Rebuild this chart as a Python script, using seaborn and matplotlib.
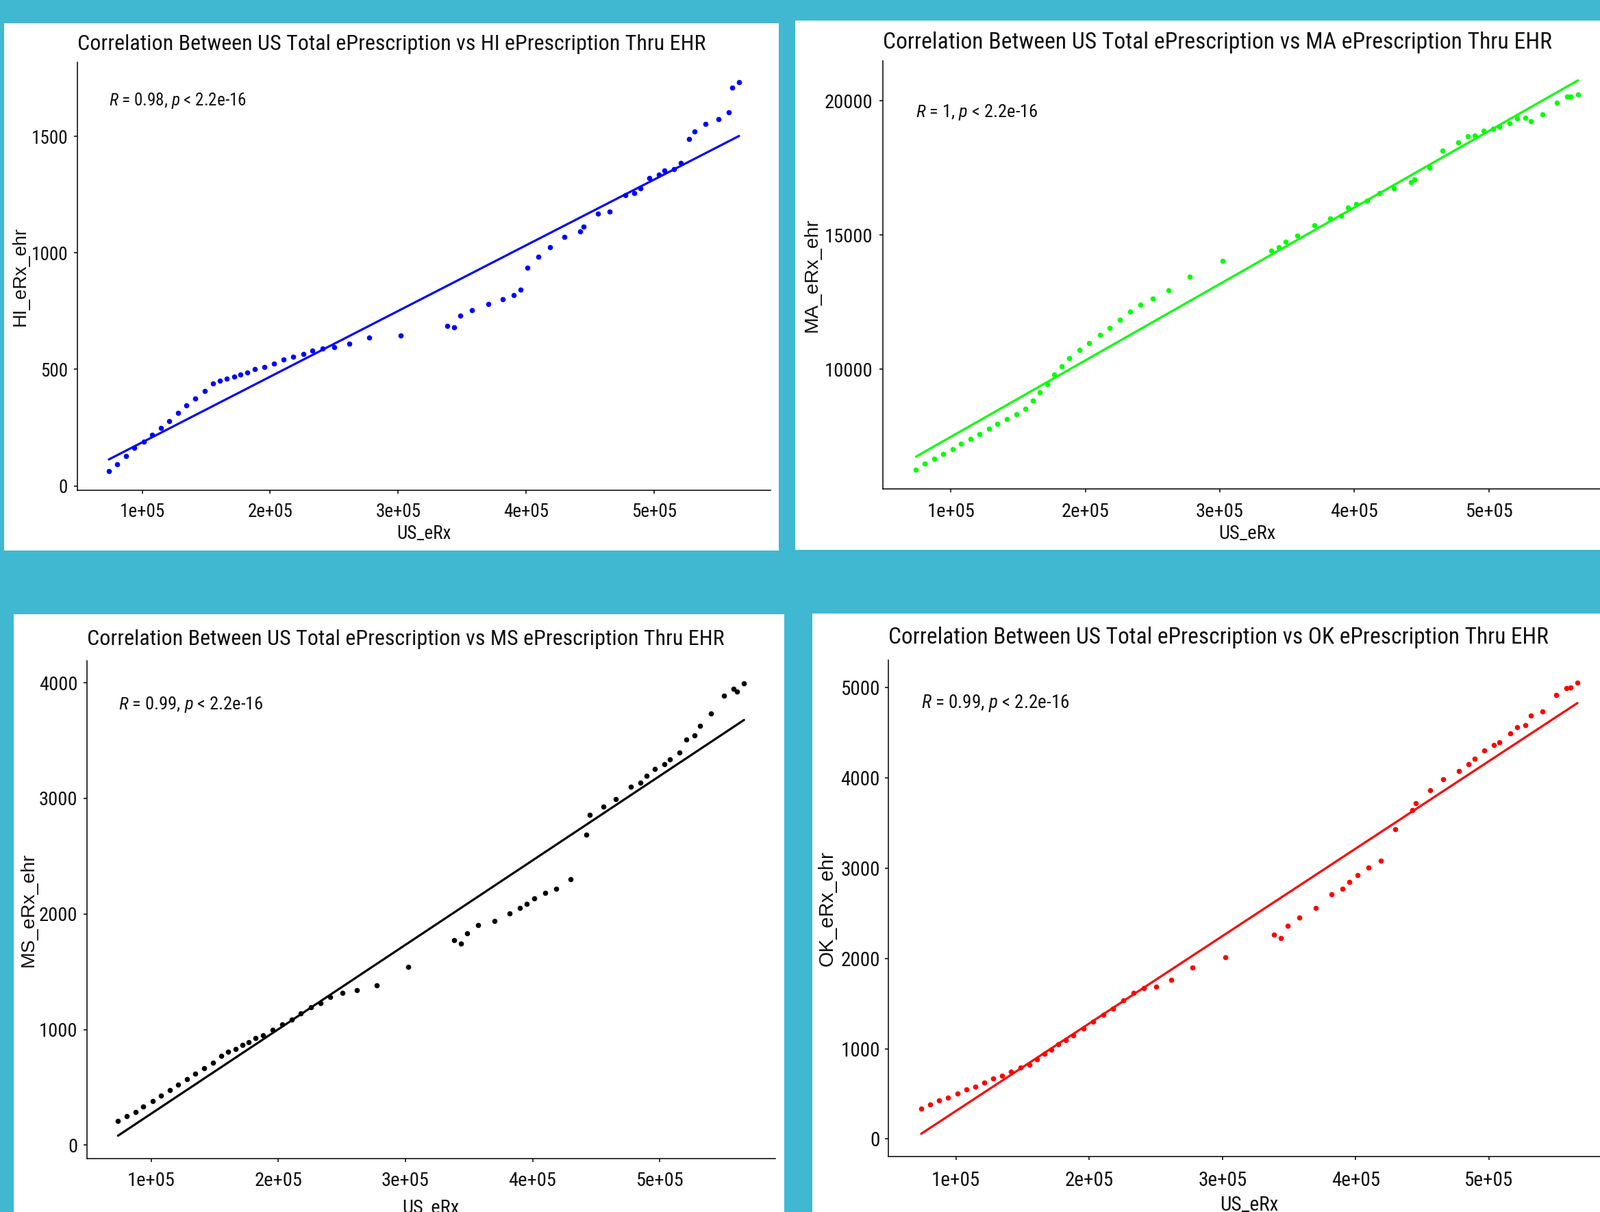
import matplotlib
matplotlib.use("Agg")
import matplotlib.pyplot as plt
from matplotlib import font_manager
from matplotlib.patches import Rectangle
import pandas as pd
import seaborn as sns

# --------------------------------
# DATA
# --------------------------------

us_erx = [74000, 80600, 87600, 94000, 101100, 107700, 114700, 121200, 128200, 134600,
          141600, 148800, 155100, 160700, 166300, 171900, 176800, 182300, 188000, 195600,
          202900, 210700, 217900, 225800, 233100, 241000, 250300, 261800, 277500, 302100,
          338400, 343900, 348700, 357400, 370200, 381900, 390200, 395400, 401200, 409700,
          418600, 429600, 442400, 444900, 455900, 465400, 477400, 484600, 489400, 496300,
          503500, 507800, 515700, 521000, 527400, 531400, 540100, 550500, 558200, 561000,
          566300]

hi_erx_ehr = [63, 92, 129, 162, 191, 219, 249, 279, 314, 345,
              376, 407, 440, 451, 460, 468, 477, 488, 500, 511,
              525, 542, 553, 565, 580, 591, 597, 610, 637, 647,
              687, 681, 731, 753, 782, 802, 818, 842, 938, 984,
              1024, 1069, 1093, 1113, 1169, 1178, 1249, 1257, 1277, 1323,
              1338, 1354, 1361, 1386, 1489, 1523, 1554, 1574, 1603, 1711,
              1734]

ma_erx_ehr = [6260, 6476, 6655, 6831, 7007, 7226, 7404, 7570, 7789, 7965,
              8144, 8310, 8527, 8830, 9141, 9444, 9806, 10099, 10400, 10714,
              10964, 11275, 11525, 11846, 12150, 12410, 12629, 12930, 13450, 14024,
              14408, 14544, 14760, 14969, 15365, 15624, 15719, 16020, 16145, 16290,
              16550, 16729, 16968, 17060, 17509, 18154, 18455, 18674, 18705, 18893,
              18965, 19029, 19164, 19340, 19371, 19236, 19509, 19935, 20164, 20153,
              20235]

ms_erx_ehr = [208, 254, 288, 337, 384, 428, 477, 524, 573, 619,
              666, 715, 772, 808, 831, 870, 891, 927, 952, 997,
              1048, 1088, 1141, 1192, 1230, 1283, 1315, 1340, 1385, 1540,
              1772, 1746, 1831, 1902, 1937, 2005, 2052, 2090, 2134, 2185,
              2220, 2299, 2688, 2856, 2926, 2994, 3100, 3135, 3194, 3253,
              3297, 3336, 3394, 3512, 3547, 3630, 3733, 3886, 3947, 3924,
              3995]

ok_erx_ehr = [337, 384, 430, 458, 505, 548, 579, 622, 669, 700,
              743, 789, 824, 879, 944, 988, 1050, 1093, 1149, 1223,
              1300, 1372, 1443, 1536, 1616, 1672, 1687, 1762, 1898, 2015,
              2262, 2229, 2365, 2455, 2562, 2709, 2770, 2845, 2923, 3009,
              3084, 3431, 3643, 3718, 3868, 3986, 4079, 4151, 4211, 4301,
              4362, 4394, 4494, 4559, 4587, 4691, 4738, 4917, 4992, 5006,
              5056]

states = ["HI", "MA", "MS", "OK"]
r_values = ["0.98", "1", "0.99", "0.99"]
point_colors = ["#0000FF", "#00FF00", "#000000", "#FF0000"]

x_ticks = [100000, 200000, 300000, 400000, 500000]
x_tick_labels = ["1e+05", "2e+05", "3e+05", "4e+05", "5e+05"]
hi_ticks = [0, 500, 1000, 1500]
ma_ticks = [10000, 15000, 20000]
ms_ticks = [0, 1000, 2000, 3000, 4000]
ok_ticks = [0, 1000, 2000, 3000, 4000, 5000]

df = pd.DataFrame({
    "US_eRx": us_erx,
    "HI_eRx_ehr": hi_erx_ehr,
    "MA_eRx_ehr": ma_erx_ehr,
    "MS_eRx_ehr": ms_erx_ehr,
    "OK_eRx_ehr": ok_erx_ehr,
})
y_tick_sets = [hi_ticks, ma_ticks, ms_ticks, ok_ticks]

# --------------------------------
# LAYOUT (pixel boxes of the collage)
# --------------------------------

W, H = 2336, 1770
BG = "#40B8D2"

layout = [
    # white card, axes box, title baseline, xlabel top, ylabel right edge, note pos
    dict(card=(6, 34, 1137, 804), box=(113, 91.5, 1125, 716.5), title_y=73,
         xlab=766, ylab=43, note=(0.045, 0.900), fs=19.5, tfs=23.0, xpad=9.0, ypad=6.5),
    dict(card=(1161, 30, 2336, 803), box=(1289, 89, 2352, 714), title_y=70.6,
         xlab=766, ylab=1199, note=(0.045, 0.869), fs=20.5, tfs=24.2, xpad=10.5, ypad=7.2),
    dict(card=(20, 897, 1145, 1770), box=(126.6, 965, 1132, 1691.6), title_y=941.5,
         xlab=1751, ylab=55, note=(0.046, 0.902), fs=20.5, tfs=23.0, xpad=10.7, ypad=6.0),
    dict(card=(1186, 896, 2336, 1770), box=(1297, 964, 2351, 1688.7), title_y=939.6,
         xlab=1745.5, ylab=1222, note=(0.046, 0.903), fs=21.0, tfs=24.0, xpad=11.5, ypad=5.0),
]

sns.set_theme(style="ticks")

names = {f.name for f in font_manager.fontManager.ttflist}
narrow = next((n for n in ["Liberation Sans Narrow", "Roboto Condensed",
                           "DejaVu Sans Condensed"] if n in names), "Liberation Sans")
plt.rcParams["font.family"] = [narrow, "DejaVu Sans"]
plt.rcParams["mathtext.fontset"] = "custom"
plt.rcParams["mathtext.it"] = narrow + ":italic"
plt.rcParams["mathtext.rm"] = narrow

fig = plt.figure(figsize=(W / 100, H / 100), dpi=100, facecolor=BG)

for i, st in enumerate(states):
    lay = layout[i]
    l, t, r, b = lay["card"]
    fig.add_artist(Rectangle((l / W, 1 - b / H), (r - l) / W, (b - t) / H,
                             transform=fig.transFigure, facecolor="white",
                             edgecolor="none", zorder=-1))

    l, t, r, b = lay["box"]
    ax = fig.add_axes([l / W, 1 - b / H, (r - l) / W, (b - t) / H])
    ax.set_facecolor("white")

    ycol = f"{st}_eRx_ehr"
    sns.regplot(data=df, x="US_eRx", y=ycol, ax=ax, ci=None, color=point_colors[i],
                scatter_kws=dict(s=30, linewidths=0, alpha=1),
                line_kws=dict(lw=2.3))

    ax.set_xticks(x_ticks)
    ax.set_xticklabels(x_tick_labels)
    ax.set_yticks(y_tick_sets[i])
    ax.set_yticklabels([str(v) for v in y_tick_sets[i]])

    sns.despine(ax=ax)
    for side in ["left", "bottom"]:
        ax.spines[side].set_linewidth(1.1)
        ax.spines[side].set_color("black")
    ax.tick_params(axis="both", length=3.6, width=1.1, color="black",
                   labelsize=lay["fs"], labelcolor="#111111")
    ax.tick_params(axis="x", pad=lay["xpad"])
    ax.tick_params(axis="y", pad=lay["ypad"])

    ax_h = b - t
    ax_w = r - l
    ax.set_title(f"Correlation Between US Total ePrescription vs {st} ePrescription Thru EHR",
                 loc="left", fontsize=lay["tfs"], color="#111111",
                 pad=(t - lay["title_y"]) * 0.72)

    ax.set_xlabel("US_eRx", fontsize=lay["fs"], color="#111111")
    ax.xaxis.set_label_coords(0.5, (b - lay["xlab"]) / ax_h)
    ax.set_ylabel(ycol, fontsize=lay["fs"], color="#111111", family="Liberation Sans")
    ax.yaxis.set_label_coords((lay["ylab"] - l) / ax_w, 0.5)

    nx, ny = lay["note"]
    ax.text(nx, ny, rf"$R$ = {r_values[i]}, $p$ < 2.2e-16", transform=ax.transAxes,
            fontsize=lay["fs"] * 0.93, color="#111111", va="baseline", ha="left")

fig.savefig("out.png", dpi=100, facecolor=BG)
